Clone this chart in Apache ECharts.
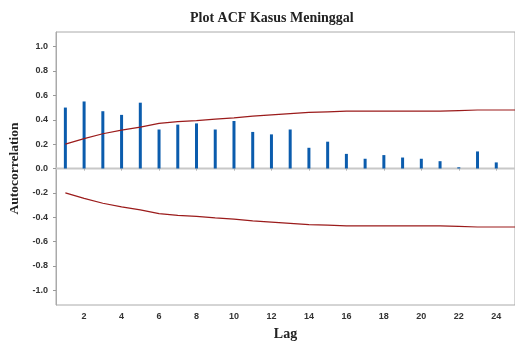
<!DOCTYPE html>
<html>
<head>
<meta charset="utf-8">
<script src="https://cdn.jsdelivr.net/npm/echarts@6/dist/echarts.min.js"></script>
<style>html,body{margin:0;padding:0;background:#fff;}#c{width:515px;height:343px;}</style>
</head>
<body>
<div id="c"></div>
<script>
const lags = [1,2,3,4,5,6,7,8,9,10,11,12,13,14,15,16,17,18,19,20,21,22,23,24];
const acf = [0.50,0.55,0.47,0.44,0.54,0.32,0.36,0.37,0.32,0.39,0.30,0.28,0.32,0.17,0.22,0.12,0.08,0.11,0.09,0.08,0.06,0.01,0.14,0.05];
const limitLags = [1,2,3,4,5,6,7,8,9,10,11,12,13,14,15,16,17,18,19,20,21,22,23,24,25];
const upperLimit = [0.20,0.245,0.285,0.315,0.34,0.37,0.385,0.393,0.405,0.415,0.43,0.44,0.45,0.46,0.465,0.47,0.47,0.47,0.47,0.47,0.47,0.475,0.48,0.48,0.48];
const lowerLimit = upperLimit.map(v => -v);
const xTicks = [2,4,6,8,10,12,14,16,18,20,22,24];
const yTicks = [-1.0,-0.8,-0.6,-0.4,-0.2,0.0,0.2,0.4,0.6,0.8,1.0];
const xRange = [0.5,25];

const chart = echarts.init(document.getElementById('c'), null, {renderer:'canvas'});
const serif = 'Liberation Serif';
const sans = 'Liberation Sans';
chart.setOption({
  animation:false,
  title:{text:'Plot ACF Kasus Meninggal',left:185,top:6,
    textStyle:{fontFamily:serif,fontWeight:'bold',fontSize:14,color:'#222'}},
  grid:{left:56,right:0,top:32,bottom:38,show:true,borderColor:'#aaa',borderWidth:1,
    containLabel:false,outerBoundsMode:'none'},
  xAxis:{type:'value',min:xRange[0],max:xRange[1],
    name:'Lag',nameLocation:'middle',nameGap:22,
    nameTextStyle:{fontFamily:serif,fontWeight:'bold',fontSize:14,color:'#222'},
    axisLine:{show:true,lineStyle:{color:'#aaa',width:1}},
    axisTick:{show:true,customValues:xTicks,length:2,lineStyle:{color:'#999'}},
    axisLabel:{customValues:xTicks,margin:7,fontFamily:sans,fontWeight:'bold',fontSize:9,color:'#333'},
    splitLine:{show:false}},
  yAxis:{type:'value',min:-1.12,max:1.12,
    name:'Autocorrelation',nameLocation:'middle',nameGap:30,nameRotate:90,
    nameTextStyle:{fontFamily:serif,fontWeight:'bold',fontSize:13.5,color:'#222'},
    axisLine:{show:true,lineStyle:{color:'#aaa',width:1}},
    axisTick:{show:true,customValues:yTicks,length:3,lineStyle:{color:'#999'}},
    axisLabel:{customValues:yTicks,margin:8,fontFamily:sans,fontWeight:'bold',fontSize:9,color:'#333',
      formatter:v=>v.toFixed(1)},
    splitLine:{show:false}},
  series:[
    {type:'line',data:[[xRange[0],0],[xRange[1],0]],showSymbol:false,silent:true,
      lineStyle:{color:'#c8c8c8',width:2},z:1},
    {type:'bar',data:lags.map((l,i)=>[l,acf[i]]),barWidth:3,
      itemStyle:{color:'#0b5cad'},z:3},
    {type:'line',data:limitLags.map((l,i)=>[l,upperLimit[i]]),showSymbol:false,
      lineStyle:{color:'#9b1b1b',width:1.2},z:4},
    {type:'line',data:limitLags.map((l,i)=>[l,lowerLimit[i]]),showSymbol:false,
      lineStyle:{color:'#9b1b1b',width:1.2},z:4}
  ]
});
</script>
</body>
</html>
